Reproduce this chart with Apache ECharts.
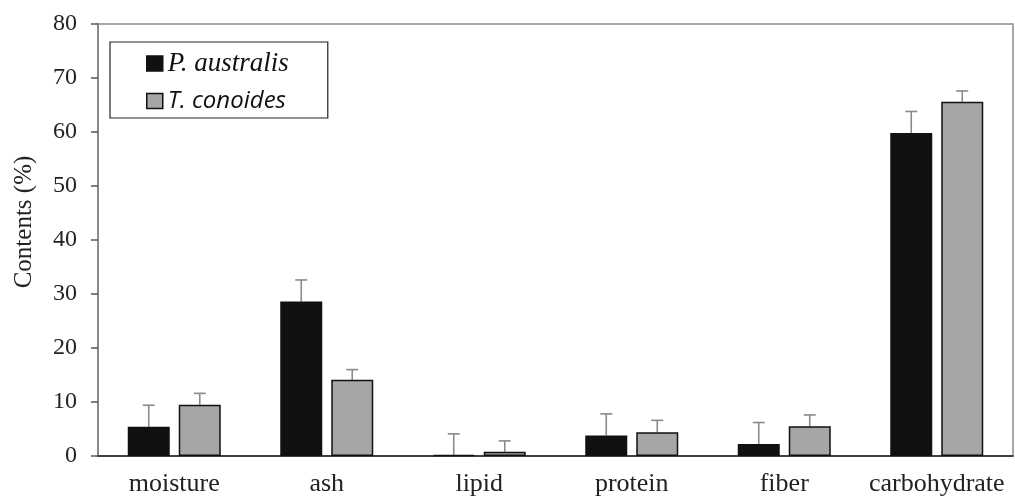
<!DOCTYPE html>
<html>
<head>
<meta charset="utf-8">
<script src="https://cdn.jsdelivr.net/npm/echarts@6/dist/echarts.min.js"></script>
<style>html,body{margin:0;padding:0;background:#fff}#c{width:1015px;height:500px}</style>
</head>
<body>
<div id="c"></div>
<script>
var categories = ['moisture', 'ash', 'lipid', 'protein', 'fiber', 'carbohydrate'];
var seriesNames = ['P. australis', 'T. conoides'];
var pAustralis = [5.4, 28.6, 0.2, 3.8, 2.2, 59.8];
var pAustralisErr = [4.0, 4.0, 3.9, 4.0, 4.0, 4.0];
var tConoides = [9.5, 14.1, 0.8, 4.4, 5.5, 65.6];
var tConoidesErr = [2.1, 1.9, 2.0, 2.2, 2.1, 2.0];
var yTicks = [0, 10, 20, 30, 40, 50, 60, 70, 80];

var BAR_W = 42, GAP = 9;
var chart = echarts.init(document.getElementById('c'), null, {renderer: 'canvas'});

function errSeries(vals, errs, idx) {
  var data = vals.map(function (v, i) { return [i, v, v + errs[i]]; });
  var off = (idx === 0 ? -1 : 1) * (BAR_W + GAP) / 2;
  return {
    type: 'custom',
    z: 1,
    silent: true,
    data: data,
    encode: {x: 0, y: [1, 2]},
    renderItem: function (params, api) {
      var c = api.value(0);
      var p0 = api.coord([c, api.value(1)]);
      var p1 = api.coord([c, api.value(2)]);
      var x = p0[0] + off;
      var st = {stroke: '#8a8a8a', lineWidth: 1.6};
      return {
        type: 'group',
        children: [
          {type: 'line', shape: {x1: x, y1: p0[1], x2: x, y2: p1[1]}, style: st},
          {type: 'line', shape: {x1: x - 6, y1: p1[1], x2: x + 6, y2: p1[1]}, style: st}
        ]
      };
    }
  };
}

chart.setOption({
  animation: false,
  backgroundColor: '#fff',
  grid: {left: 98, right: 2, top: 24, bottom: 44, show: true, borderColor: '#8a8a8a', borderWidth: 1.5, backgroundColor: 'transparent'},
  legend: {
    data: seriesNames,
    orient: 'vertical',
    left: 110, top: 42,
    padding: [8, 39, 5, 36],
    itemGap: 12,
    itemWidth: 16, itemHeight: 15,
    itemStyle: {borderColor: '#111', borderWidth: 1.5},
    borderColor: '#222', borderWidth: 1.2,
    icon: 'rect',
    formatter: function (n) { return n === seriesNames[0] ? '{a|' + n + '}' : '{b|' + n + '}'; },
    textStyle: {
      color: '#111',
      rich: {
        a: {fontFamily: 'Liberation Serif', fontStyle: 'italic', fontSize: 27, color: '#111'},
        b: {fontFamily: 'Open Sans', fontStyle: 'italic', fontSize: 24, color: '#111'}
      }
    }
  },
  xAxis: {
    type: 'category',
    data: categories,
    axisLine: {lineStyle: {color: '#222', width: 1.5}},
    axisTick: {alignWithLabel: true, length: 6, lineStyle: {color: '#555', width: 1.5}},
    axisLabel: {interval: 0, fontFamily: 'Liberation Serif', fontSize: 26, color: '#222', margin: 15},
    splitLine: {show: false}
  },
  yAxis: {
    type: 'value',
    min: yTicks[0], max: yTicks[yTicks.length - 1], interval: 10,
    name: 'Contents (%)',
    nameLocation: 'middle',
    nameGap: 61,
    nameTextStyle: {fontFamily: 'Liberation Serif', fontSize: 25, color: '#222', padding: [0, 0, 0, 36]},
    axisLine: {show: true, lineStyle: {color: '#8a8a8a', width: 2}},
    axisTick: {show: true, length: 7, lineStyle: {color: '#555', width: 1.5}},
    axisLabel: {fontFamily: 'Liberation Serif', fontSize: 24, color: '#222', margin: 21},
    splitLine: {show: false}
  },
  series: [
    {
      name: seriesNames[0], type: 'bar', data: pAustralis, barWidth: BAR_W, barGap: (GAP / BAR_W * 100) + '%', z: 2,
      itemStyle: {color: '#111', borderColor: '#111', borderWidth: 1.5}
    },
    {
      name: seriesNames[1], type: 'bar', data: tConoides, barWidth: BAR_W, z: 2,
      itemStyle: {color: '#a6a6a6', borderColor: '#111', borderWidth: 1.5}
    },
    errSeries(pAustralis, pAustralisErr, 0),
    errSeries(tConoides, tConoidesErr, 1)
  ]
});
</script>
</body>
</html>
